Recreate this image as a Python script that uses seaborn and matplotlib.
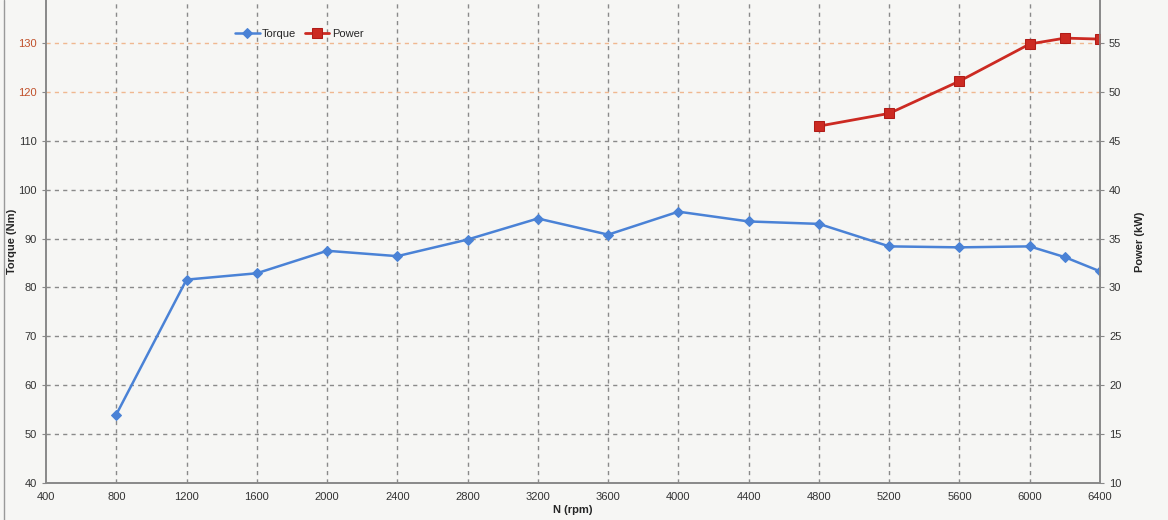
import matplotlib
matplotlib.use("Agg")
import matplotlib.pyplot as plt
from matplotlib.lines import Line2D
import seaborn as sns
import pandas as pd

# Data
rpm_torque = [800, 1200, 1600, 2000, 2400, 2800, 3200, 3600, 4000, 4400, 4800, 5200, 5600, 6000, 6200, 6400]
torque = [54.0, 81.6, 82.9, 87.5, 86.4, 89.8, 94.1, 90.8, 95.5, 93.5, 93.0, 88.4, 88.2, 88.4, 86.2, 83.3]
rpm_power = [4800, 5200, 5600, 6000, 6200, 6400]
power = [46.5, 47.8, 51.1, 54.9, 55.5, 55.4]
x_ticks = list(range(400, 6401, 400))
torque_ticks = list(range(40, 131, 10))
power_ticks = list(range(10, 56, 5))

df_t = pd.DataFrame({"N (rpm)": rpm_torque, "Torque": torque})
df_p = pd.DataFrame({"N (rpm)": rpm_power, "Power": power})

sns.set_style("white")
plt.rcParams["font.family"] = ["Liberation Sans", "DejaVu Sans"]

fig = plt.figure(figsize=(11.68, 5.2), dpi=100)
fig.patch.set_facecolor("#f6f6f4")
ax = fig.add_axes([46 / 1168, 1 - 483 / 520, (1100 - 46) / 1168, 483 / 520])
ax.set_facecolor("#f6f6f4")
ax2 = ax.twinx()

blue = "#4a82d6"
red = "#cc2a22"

sns.lineplot(data=df_t, x="N (rpm)", y="Torque", ax=ax, color=blue, marker="D",
             markersize=5, linewidth=1.8, markeredgecolor=blue, label="Torque", legend=False)
sns.lineplot(data=df_p, x="N (rpm)", y="Power", ax=ax2, color=red, marker="s",
             markersize=7, linewidth=2, markeredgecolor="#b01c18", label="Power", legend=False)

ytop = 130 + 43 / (440 / 90)
ax.set_xlim(400, 6400)
ax.set_ylim(40, ytop)
ax2.set_ylim(10, 10 + (ytop - 40) / 2)

ax.set_xticks(x_ticks)
ax.set_yticks(torque_ticks)
ax2.set_yticks(power_ticks)

# grid
for xv in x_ticks[1:-1]:
    ax.axvline(xv, color="#8a8a8a", linestyle=(0, (3, 3)), linewidth=1, zorder=0)
for yv in torque_ticks[1:]:
    c = "#f0b890" if yv >= 120 else "#8a8a8a"
    ax.axhline(yv, color=c, linestyle=(0, (3, 3)), linewidth=1, zorder=0)

for a in (ax, ax2):
    for s in a.spines.values():
        s.set_color("#888888")
        s.set_linewidth(1.2)
    a.spines["top"].set_visible(False)
ax.tick_params(axis="both", labelsize=8, length=3, color="#888888", labelcolor="#333333")
ax2.tick_params(axis="y", labelsize=8, length=3, color="#888888", labelcolor="#333333")
for lbl in ax.get_yticklabels():
    if lbl.get_text() in ("120", "130"):
        lbl.set_color("#c0502a")

ax.set_xlabel("N (rpm)", fontsize=8, fontweight="bold", labelpad=2)
ax.set_ylabel("Torque (Nm)", fontsize=8, fontweight="bold", labelpad=1)
ax2.set_ylabel("Power (kW)", fontsize=8, fontweight="bold", labelpad=10)

h1, l1 = ax.get_legend_handles_labels()
h2, l2 = ax2.get_legend_handles_labels()
ax2.legend(h1 + h2, l1 + l2, loc="upper left", bbox_to_anchor=(0.17, 0.96), ncol=2,
           frameon=False, fontsize=8, handlelength=2.2, columnspacing=0.8, handletextpad=0.2)

# outer left frame line of the scanned sheet
fig.add_artist(Line2D([4 / 1168, 4 / 1168], [0, 1], transform=fig.transFigure,
                      color="#999999", linewidth=1))

fig.savefig("out.png", dpi=100, facecolor=fig.get_facecolor())
